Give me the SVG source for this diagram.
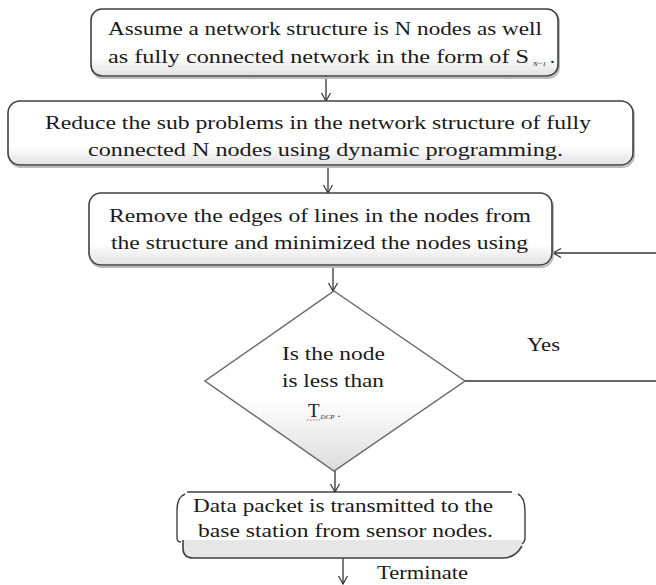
<svg xmlns="http://www.w3.org/2000/svg" width="656" height="585" viewBox="0 0 656 585">
<defs>
<linearGradient id="g" x1="0" y1="0" x2="0" y2="1">
<stop offset="0" stop-color="#ffffff"/>
<stop offset="0.7" stop-color="#ffffff"/>
<stop offset="1" stop-color="#e2e2e2"/>
</linearGradient>
<linearGradient id="gd" x1="0" y1="0" x2="0" y2="1">
<stop offset="0" stop-color="#ffffff"/>
<stop offset="0.6" stop-color="#ffffff"/>
<stop offset="1" stop-color="#dcdcdc"/>
</linearGradient>
<marker id="arr" markerUnits="userSpaceOnUse" markerWidth="12" markerHeight="12" refX="9" refY="5" orient="auto">
<path d="M1,0.5 L9,5 L1,9.5" fill="none" stroke="#333" stroke-width="1.2"/>
</marker>
</defs>
<style>
.box{fill:url(#g);stroke:#404040;stroke-width:1.6}
.sh{fill:none;stroke:#bbb;stroke-width:2}
.t{font-family:"Liberation Serif","Times New Roman",serif;font-size:19px;fill:#1a1a1a}
.c{stroke:#333;stroke-width:1.3;fill:none}
.sub{font-size:7px;font-style:italic}
</style>
<rect width="656" height="585" fill="#ffffff"/>
<g id="connectors">
<line class="c" x1="326" y1="76" x2="326" y2="101" marker-end="url(#arr)"/>
<line class="c" x1="328" y1="166" x2="328" y2="193" marker-end="url(#arr)"/>
<line class="c" x1="333" y1="266" x2="333" y2="291" marker-end="url(#arr)"/>
<line class="c" x1="335" y1="471" x2="335" y2="492" marker-end="url(#arr)"/>
<line class="c" x1="343" y1="558" x2="343" y2="584" marker-end="url(#arr)"/>
<line class="c" x1="656" y1="253" x2="553" y2="253" marker-end="url(#arr)"/>
<line class="c" x1="465" y1="381" x2="656" y2="381"/>
<text class="t" x="527" y="351" textLength="33" lengthAdjust="spacingAndGlyphs">Yes</text>
<text class="t" x="377" y="579" textLength="91" lengthAdjust="spacingAndGlyphs">Terminate</text>
</g>
<g id="node1">
<rect class="sh" x="92" y="11" width="467" height="67" rx="11"/>
<rect class="box" x="91" y="9" width="467" height="67" rx="11"/>
<text class="t" x="108" y="35" textLength="434" lengthAdjust="spacingAndGlyphs">Assume a network structure is N nodes as well</text>
<text class="t" x="108" y="63"><tspan textLength="421" lengthAdjust="spacingAndGlyphs">as fully connected network in the form of S</tspan><tspan class="sub" dx="4" dy="3">N−1</tspan><tspan dx="4" dy="-3">.</tspan></text>
</g>
<g id="node2">
<rect class="sh" x="9" y="103" width="625" height="64" rx="12"/>
<rect class="box" x="8" y="101" width="625" height="64" rx="12"/>
<text class="t" x="45" y="129" textLength="546" lengthAdjust="spacingAndGlyphs">Reduce the sub problems in the network structure of fully</text>
<text class="t" x="88" y="156" textLength="475" lengthAdjust="spacingAndGlyphs">connected N nodes using dynamic programming.</text>
</g>
<g id="node3">
<rect class="sh" x="90" y="195" width="463" height="72" rx="12"/>
<rect class="box" x="89" y="193" width="463" height="72" rx="12"/>
<text class="t" x="109" y="222" textLength="422" lengthAdjust="spacingAndGlyphs">Remove the edges of lines in the nodes from</text>
<text class="t" x="111" y="249" textLength="417" lengthAdjust="spacingAndGlyphs">the structure and minimized the nodes using</text>
</g>
<g id="node4">
<polygon points="334,291 465,381 334,471 205,381" fill="url(#gd)" stroke="#6a6a6a" stroke-width="1.5"/>
<text class="t" x="282" y="360" textLength="103" lengthAdjust="spacingAndGlyphs">Is the node</text>
<text class="t" x="282" y="387" textLength="102" lengthAdjust="spacingAndGlyphs">is less than</text>
<text class="t" x="308" y="417">T<tspan class="sub" dx="1" dy="2">DCP</tspan><tspan dx="3" dy="-2" font-size="12">.</tspan></text>
<line x1="307" y1="420" x2="320" y2="420" stroke="#e05050" stroke-width="1" stroke-dasharray="1.5,1.5"/>
</g>
<g id="node5">
<path d="M183,540 L183,548 Q183,558 193,558 L503,558 Q515,558 522,546 L522,540 Z" fill="#e6e6e6" stroke="none"/>
<path d="M183,540 L183,548 Q183,558 193,558 L503,558 Q515,558 522,546" fill="none" stroke="#404040" stroke-width="1.6"/>
<path d="M187,492 L512,492" stroke="#404040" stroke-width="1.6" fill="none"/>
<path d="M185,494 Q177,497 177,510 L177,538 Q177,542 181,542" fill="none" stroke="#404040" stroke-width="1.4"/>
<path d="M518,494 Q525,497 525,512 L525,538 Q525,542 522,544" fill="none" stroke="#404040" stroke-width="1.4"/>
<text class="t" x="193" y="512" textLength="300" lengthAdjust="spacingAndGlyphs">Data packet is transmitted to the</text>
<text class="t" x="198" y="537" textLength="295" lengthAdjust="spacingAndGlyphs">base station from sensor nodes.</text>
</g>
</svg>
